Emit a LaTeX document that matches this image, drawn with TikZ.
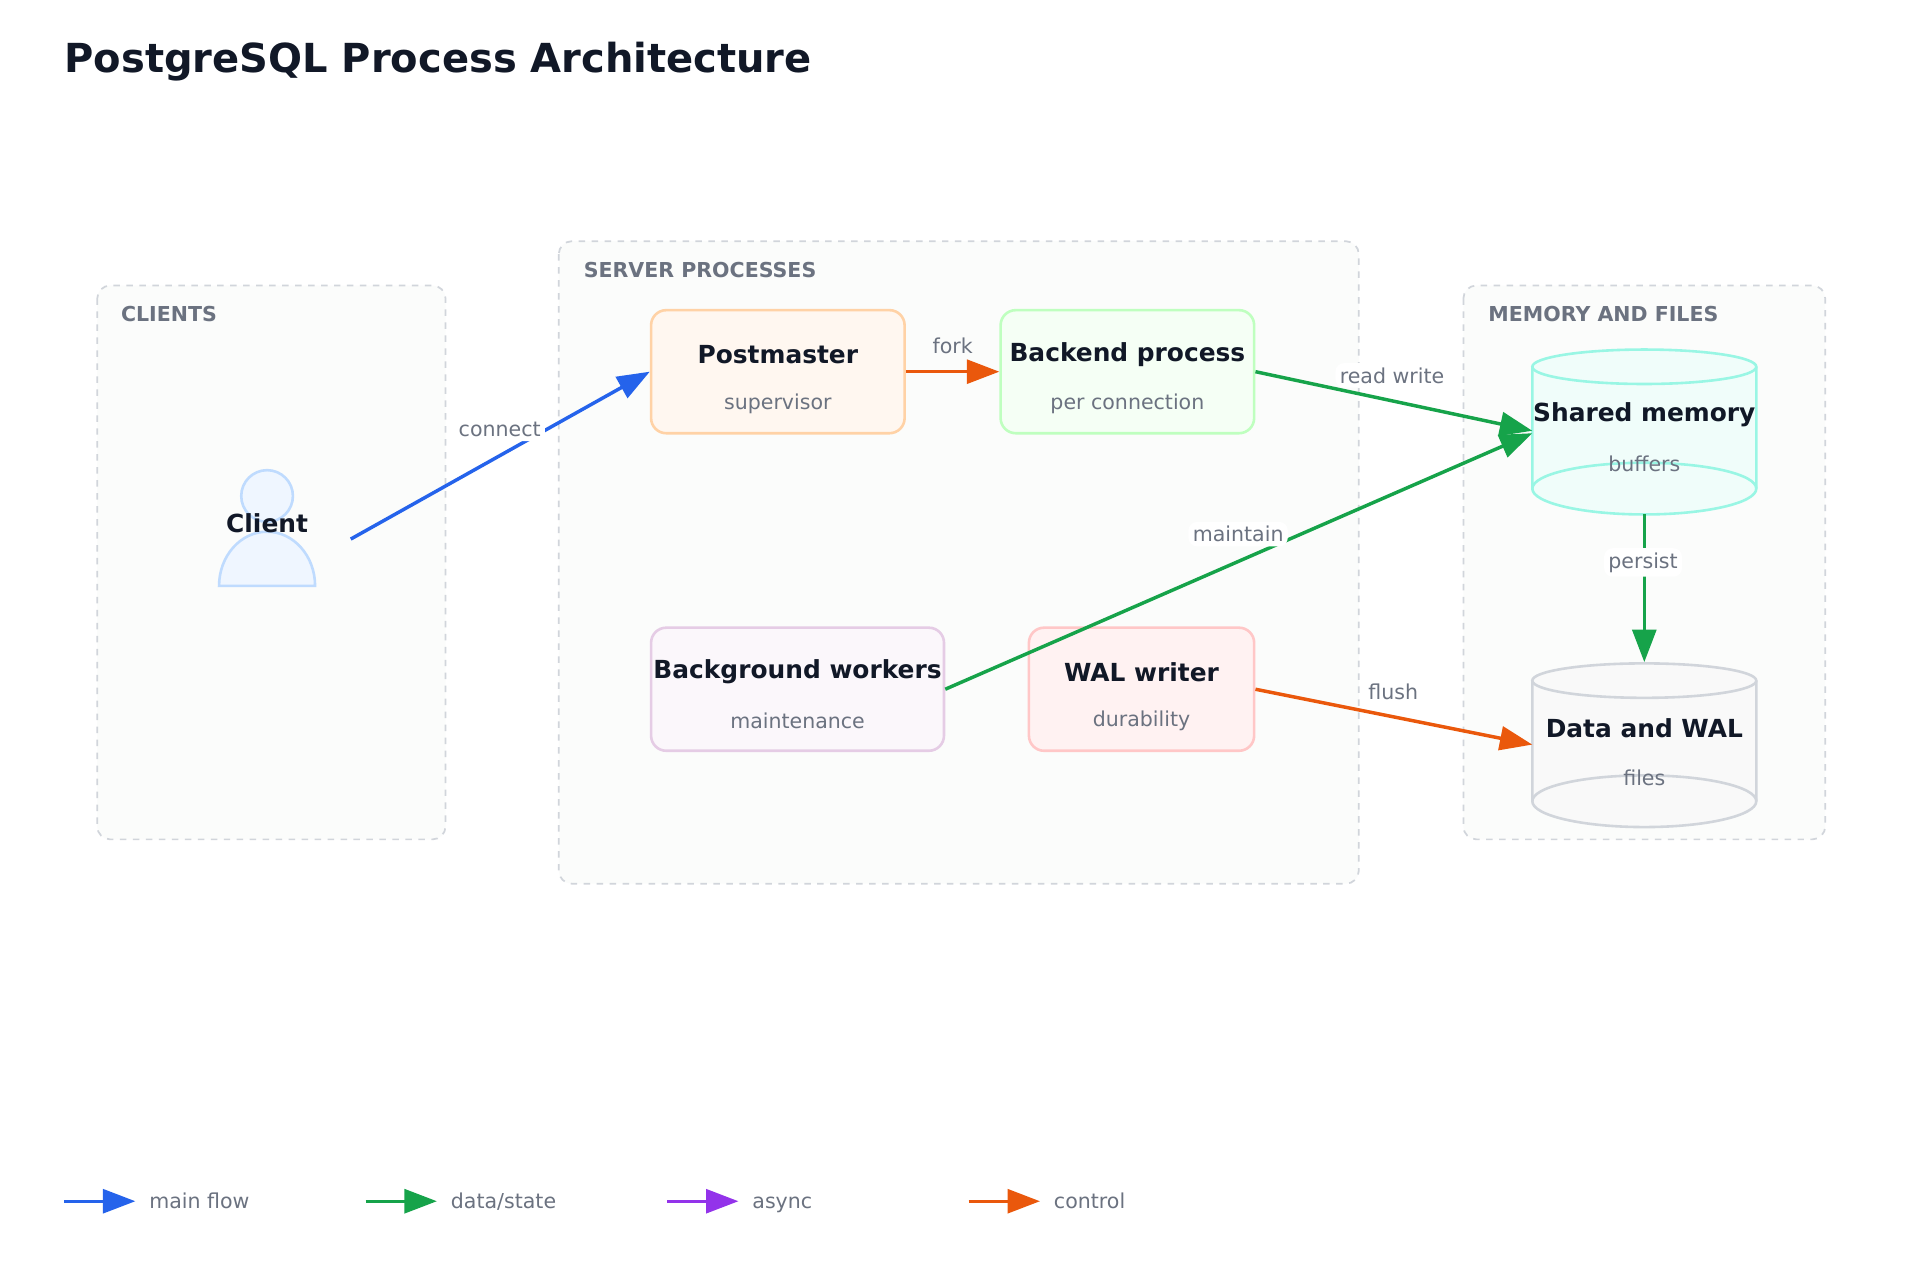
\documentclass[tikz,border=0pt]{standalone}
\usepackage{fontspec}
\setmainfont{DejaVu Sans}
\usetikzlibrary{arrows.meta}
\definecolor{cblue}{HTML}{2563EB}
\definecolor{cgreen}{HTML}{16A34A}
\definecolor{cpurple}{HTML}{9333EA}
\definecolor{corange}{HTML}{EA580C}
\definecolor{ink}{HTML}{111827}
\definecolor{muted}{HTML}{6B7280}
\definecolor{grp}{HTML}{D1D5DB}
\definecolor{grpf}{HTML}{FBFCFB}
\tikzset{
  x=0.02cm,y=-0.02cm,
  group/.style={draw=grp,dashed,fill=grpf,rounded corners=6pt,line width=0.8pt},
  grouplabel/.style={anchor=west,inner sep=0pt,text=muted,font=\fontsize{9.5}{11}\selectfont\bfseries},
  proc/.style={draw,rounded corners=7pt,line width=1.2pt,inner sep=0pt},
  title/.style={text=ink,font=\fontsize{11.5}{13}\selectfont\bfseries},
  sub/.style={text=muted,font=\fontsize{9.5}{11}\selectfont},
  lbl/.style={fill=white,rounded corners=4pt,text=muted,font=\fontsize{9.5}{11}\selectfont,inner sep=2pt},
  conn/.style={line width=1.6pt,-{Triangle[length=15pt,width=11pt]}},
}
\begin{document}
\begin{tikzpicture}
\useasboundingbox[fill=white] (0,0) rectangle (1560,1040);
\node[anchor=west,inner sep=0pt,text=ink,font=\fontsize{18.5}{22}\selectfont\bfseries] (ttl) at (52,50) {PostgreSQL Process Architecture};
% groups
\draw[group] (79,232) rectangle (362,682);
\node[grouplabel] (gc) at (98,255) {CLIENTS};
\draw[group] (454,196) rectangle (1104,718);
\node[grouplabel] (gs) at (474,219) {SERVER PROCESSES};
\draw[group] (1189,232) rectangle (1483,682);
\node[grouplabel] (gm) at (1209,255) {MEMORY AND FILES};
% processes
\node[proc,draw=orange!35,fill=orange!6,minimum width=206*0.02cm,minimum height=100*0.02cm] (pm) at (632,302) {};
\node[title] at (632,288) {Postmaster};
\node[sub] at (632,328) {supervisor};
\node[proc,draw=green!25,fill=green!4,minimum width=206*0.02cm,minimum height=100*0.02cm] (be) at (916,302) {};
\node[title] at (916,288) {Backend process};
\node[sub] at (916,328) {per connection};
\node[proc,draw=violet!20,fill=violet!3,minimum width=238*0.02cm,minimum height=100*0.02cm] (bg) at (648,560) {};
\node[title] at (648,546) {Background workers};
\node[sub] at (648,586) {maintenance};
\node[proc,draw=red!22,fill=red!5,minimum width=183*0.02cm,minimum height=100*0.02cm] (wal) at (927.5,560) {};
\node[title] at (927.5,546) {WAL writer};
\node[sub] at (927.5,586) {durability};
% cylinders
\definecolor{tealb}{HTML}{99F6E4}\definecolor{tealf}{HTML}{F0FDFA}
\filldraw[draw=tealb,fill=tealf,line width=1.2pt] (1245,298) -- (1245,397) arc[start angle=180,end angle=360,x radius=91,y radius=-21] -- (1427,298);
\filldraw[draw=tealb,fill=tealf,line width=1.2pt] (1336,298) ellipse[x radius=91,y radius=14];
\draw[draw=tealb,line width=1.2pt] (1245,397) arc[start angle=180,end angle=0,x radius=91,y radius=-21];
\node[title] (sm) at (1336,337) {Shared memory};
\node[sub] at (1336,377) {buffers};
\filldraw[draw=grp,fill=gray!5,line width=1.2pt] (1245,553) -- (1245,651) arc[start angle=180,end angle=360,x radius=91,y radius=-21] -- (1427,553);
\filldraw[draw=grp,fill=gray!5,line width=1.2pt] (1336,553) ellipse[x radius=91,y radius=14];
\draw[draw=grp,line width=1.2pt] (1245,651) arc[start angle=180,end angle=0,x radius=91,y radius=-21];
\node[title] (dw) at (1336,592) {Data and WAL};
\node[sub] at (1336,632) {files};
% client icon
\definecolor{cb}{HTML}{BFDBFE}\definecolor{cf}{HTML}{EFF6FF}
\filldraw[draw=cb,fill=cf,line width=1.2pt] (178,476) arc[start angle=180,end angle=0,x radius=39,y radius=-44] -- cycle;
\filldraw[draw=cb,fill=cf,line width=1.2pt] (217,403) circle[radius=21];
\node[title] (cl) at (217,425) {Client};
% coordinates
\coordinate (c1) at (285,438);
\coordinate (sm1) at (1245,350);
\coordinate (sm2) at (1245,352);
\coordinate (smb) at (1336,418);
\coordinate (dwt) at (1336,538);
\coordinate (dwl) at (1245,605);
% connectors
\draw[conn,cblue] (c1) -- (pm.west);
\draw[conn,corange] (pm.east) -- (be.west);
\draw[conn,cgreen] (be.east) -- (sm1);
\draw[conn,cgreen] (bg.east) -- (sm2);
\draw[conn,corange] (wal.east) -- (dwl);
\draw[conn,cgreen] (smb) -- (dwt);
\node[lbl] (l1) at (406,349) {connect};
\node[lbl,fill=none] (l2) at (774,281) {fork};
\node[lbl] (l3) at (1131,305) {read write};
\node[lbl] (l4) at (1006,434) {maintain};
\node[lbl] (l5) at (1132,562) {flush};
\node[lbl] (l6) at (1335,457) {persist};
% legend
\foreach \x/\c/\t/\n in {52/cblue/main flow/l1,297/cgreen/data\slash state/l2,542/cpurple/async/l3,787/corange/control/l4}{
  \coordinate (\n a) at (\x,976);
  \coordinate (\n b) at (\x+58,976);
  \draw[conn,\c] (\n a) -- (\n b);
  \node[anchor=base west,inner sep=0pt,text=muted,font=\fontsize{9.5}{11}\selectfont] (\n t) at (\x+69,982) {\t};
}
\end{tikzpicture}
\end{document}
